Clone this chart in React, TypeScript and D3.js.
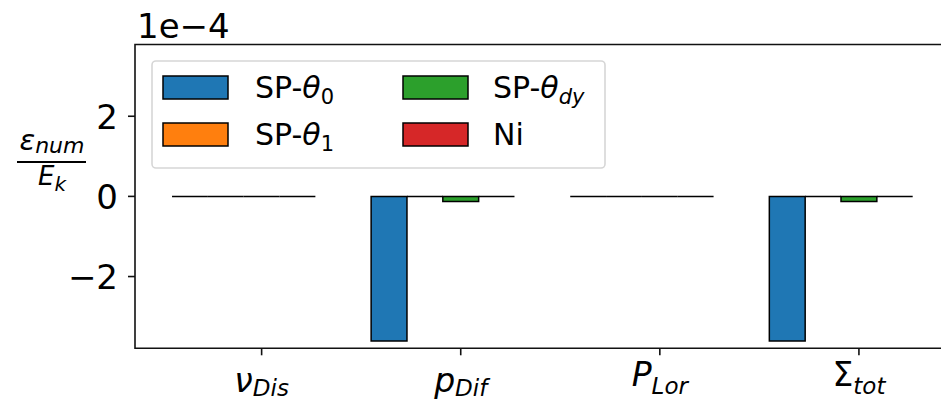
import React, { useEffect, useRef } from "react";
import * as d3 from "d3";

// x categories: main symbol + subscript
const categories = ["ν", "p", "P", "Σ"];
const categorySubs = ["Dis", "Dif", "Lor", "tot"];

// series (values in units of 1e-4)
const seriesNames = ["SP-θ0", "SP-θ1", "SP-θdy", "Ni"];
const seriesColors = ["#1f77b4", "#ff7f0e", "#2ca02c", "#d62728"];
const spTheta0 = [0, -3.61, 0, -3.61];
const spTheta1 = [0, 0, 0, 0];
const spThetaDy = [0, -0.13, 0, -0.13];
const ni = [0, 0, 0, 0];

const yTicks = [-2, 0, 2];

const W = 941;
const H = 405;
const FONT = "DejaVu Sans";

const App = () => {
  const ref = useRef<SVGSVGElement | null>(null);

  useEffect(() => {
    const svg = d3.select(ref.current);
    svg.selectAll("*").remove();

    const series = [spTheta0, spTheta1, spThetaDy, ni];
    const bw = 0.18; // bar width in category units

    // plot area
    const left = 135;
    const top = 44.5;
    const bottom = 348.3;
    const pxPerCat = 199.1;

    const xLo = -2.5 * bw;
    const xHi = categories.length - 1 + 1.5 * bw;
    const pad = 0.05 * (xHi - xLo);
    const x = d3
      .scaleLinear()
      .domain([xLo - pad, xHi + pad])
      .range([left, left + pxPerCat * (xHi - xLo + 2 * pad)]);

    const yMax = 1.05 * (d3.max(series.flat(), (v) => Math.abs(v)) as number);
    const y = d3.scaleLinear().domain([-yMax, yMax]).range([bottom, top]);

    // bars (paths so zero-height bars still show their edge)
    series.forEach((vals, si) => {
      svg
        .append("g")
        .selectAll("path")
        .data(vals)
        .join("path")
        .attr("d", (v, i) => {
          const cx = i + (si - 2) * bw;
          const x0 = x(cx - bw / 2);
          const x1 = x(cx + bw / 2);
          const y0 = y(0);
          const y1 = y(v);
          return `M${x0},${y0}H${x1}V${y1}H${x0}Z`;
        })
        .attr("fill", seriesColors[si])
        .attr("stroke", "#000")
        .attr("stroke-width", 1.5)
        .attr("stroke-linejoin", "miter");
    });

    // spines
    const right = x.range()[1];
    svg
      .append("path")
      .attr("d", `M${right},${top}H${left}V${bottom}H${right}`)
      .attr("fill", "none")
      .attr("stroke", "#111")
      .attr("stroke-width", 1.6);

    // y ticks
    const yg = svg.append("g").attr("font-family", FONT).attr("font-size", 34);
    yTicks.forEach((t) => {
      yg.append("line")
        .attr("x1", left - 7)
        .attr("x2", left)
        .attr("y1", y(t))
        .attr("y2", y(t))
        .attr("stroke", "#111")
        .attr("stroke-width", 1.6);
      yg.append("text")
        .attr("x", left - 17)
        .attr("y", y(t) + 12.5)
        .attr("text-anchor", "end")
        .text(t < 0 ? `\u2212${-t}` : `${t}`);
    });

    // offset text
    svg
      .append("text")
      .attr("x", 137)
      .attr("y", 38)
      .attr("font-family", FONT)
      .attr("font-size", 34)
      .text("1e\u22124");

    // x ticks + labels
    const xg = svg.append("g").attr("font-family", FONT);
    categories.forEach((c, i) => {
      const cx = x(i);
      xg.append("line")
        .attr("x1", cx)
        .attr("x2", cx)
        .attr("y1", bottom)
        .attr("y2", bottom + 7)
        .attr("stroke", "#111")
        .attr("stroke-width", 1.6);
      const lower = c === "ν" || c === "p";
      const t = xg
        .append("text")
        .attr("x", cx)
        .attr("y", lower ? 392 : 386)
        .attr("text-anchor", "middle")
        .attr("font-size", 33);
      t.append("tspan")
        .attr("font-style", c === "Σ" ? "normal" : "italic")
        .text(c);
      t.append("tspan")
        .attr("font-style", "italic")
        .attr("font-size", 23)
        .attr("dy", lower ? 4 : 8)
        .text(categorySubs[i]);
    });

    // y label as a fraction
    const yl = svg.append("g").attr("font-family", FONT).attr("font-style", "italic");
    const num = yl
      .append("text")
      .attr("x", 52)
      .attr("y", 150)
      .attr("text-anchor", "middle")
      .attr("font-size", 29);
    num.append("tspan").text("ε");
    num.append("tspan").attr("font-size", 22).attr("dy", 3).text("num");
    yl.append("line")
      .attr("x1", 17)
      .attr("x2", 86)
      .attr("y1", 162)
      .attr("y2", 162)
      .attr("stroke", "#000")
      .attr("stroke-width", 2);
    const den = yl
      .append("text")
      .attr("x", 52)
      .attr("y", 185)
      .attr("text-anchor", "middle")
      .attr("font-size", 26);
    den.append("tspan").text("E");
    den.append("tspan").attr("font-size", 20).attr("dy", 6).text("k");

    // legend
    const lg = svg.append("g").attr("font-family", FONT);
    lg.append("rect")
      .attr("x", 152)
      .attr("y", 61)
      .attr("width", 453)
      .attr("height", 107)
      .attr("rx", 4)
      .attr("fill", "#fff")
      .attr("fill-opacity", 0.8)
      .attr("stroke", "#d6d6d6")
      .attr("stroke-width", 1.6);

    seriesNames.forEach((name, i) => {
      const col = Math.floor(i / 2);
      const row = i % 2;
      const px = col === 0 ? 163 : 403;
      const tx = col === 0 ? 255 : 493;
      const py = 76 + row * 47;
      lg.append("rect")
        .attr("x", px)
        .attr("y", py)
        .attr("width", 65)
        .attr("height", 23)
        .attr("fill", seriesColors[i])
        .attr("stroke", "#000")
        .attr("stroke-width", 1.5);
      const t = lg
        .append("text")
        .attr("x", tx)
        .attr("y", py + 22)
        .attr("font-size", 30);
      if (name.startsWith("SP-θ")) {
        const sub = name.slice(4);
        t.append("tspan").text("SP-");
        t.append("tspan").attr("font-style", "italic").text("θ");
        t.append("tspan")
          .attr("font-size", 21)
          .attr("dy", 6)
          .attr("font-style", /\d/.test(sub) ? "normal" : "italic")
          .text(sub);
      } else {
        t.text(name);
      }
    });
  }, []);

  return (
    <svg
      ref={ref}
      width={W}
      height={H}
      style={{ position: "absolute", left: 0, top: 0, background: "#fff" }}
    />
  );
};

export default App;
